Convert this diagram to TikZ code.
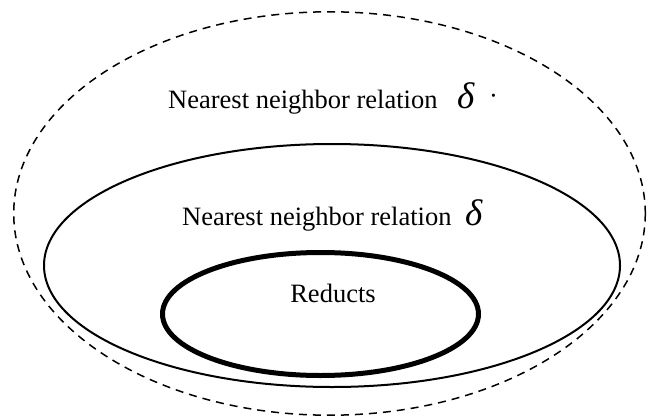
\documentclass[tikz,border=0pt]{standalone}
\usepackage{fontspec}
\setmainfont{Liberation Serif}
\begin{document}
\begin{tikzpicture}[x=1pt,y=-1pt,
  lbl/.style={inner sep=0pt, anchor=base west, font=\fontsize{26.5}{30}\selectfont},
  dlt/.style={inner sep=0pt, anchor=base west, font=\fontsize{37}{40}\selectfont\itshape},
  outerset/.style={draw, dash pattern=on 8pt off 6pt, line width=1.5pt},
  midset/.style={draw, line width=2pt},
  innerset/.style={draw, line width=5pt}]
\useasboundingbox (0,0) rectangle (668,417);
\draw[outerset] (329.5,213.5) ellipse [x radius=315.8, y radius=201.7];
\draw[midset] (332,265.5) ellipse [x radius=288, y radius=121.5];
\draw[innerset] (320.5,314) ellipse [x radius=158, y radius=61.5];
\node[lbl] (t1) at (168,108) {Nearest neighbor relation};
\node[dlt] (d1) at (457,108) {δ};
\node[lbl] (p1) at (489,105) {·};
\node[lbl] (t2) at (182,225) {Nearest neighbor relation};
\node[dlt] (d2) at (465,225) {δ};
\node[lbl, anchor=base] (r) at (333,302) {Reducts};
\end{tikzpicture}
\end{document}
